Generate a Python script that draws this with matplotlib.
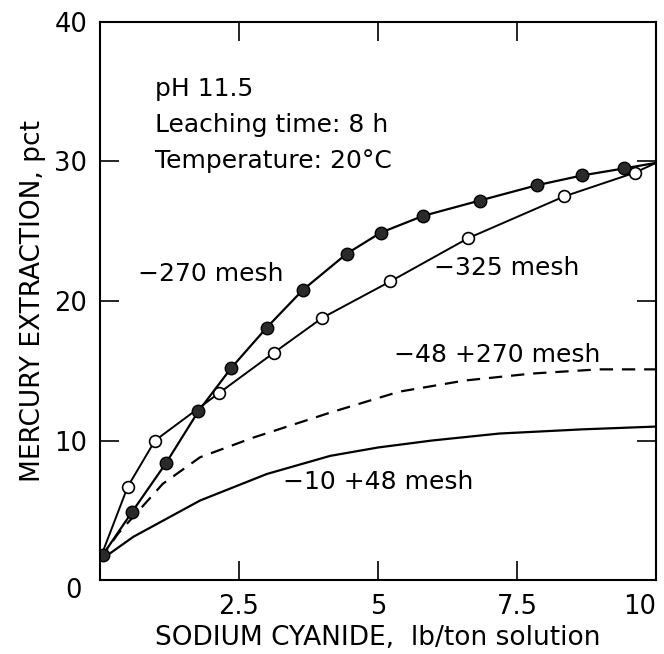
import matplotlib

matplotlib.use("Agg")
import matplotlib.pyplot as plt

# -270 mesh (filled circles)
x_270 = [0.05, 0.58, 1.19, 1.77, 2.36, 3.0, 3.65, 4.44, 5.05, 5.81, 6.83, 7.86, 8.67, 9.42]
y_270 = [1.8, 4.9, 8.4, 12.1, 15.2, 18.1, 20.8, 23.4, 24.9, 26.1, 27.2, 28.3, 29.0, 29.5]
x_270_end = [9.42, 10.0]
y_270_end = [29.5, 29.9]

# -325 mesh (open circles)
x_325 = [0.5, 0.99, 2.14, 3.13, 4.0, 5.22, 6.62, 8.35, 9.62]
y_325 = [6.7, 10.0, 13.4, 16.3, 18.8, 21.4, 24.5, 27.5, 29.2]
x_325_line = [0.0, 0.5, 0.99, 2.14, 3.13, 4.0, 5.22, 6.62, 8.35, 9.62, 10.0]
y_325_line = [1.5, 6.7, 10.0, 13.4, 16.3, 18.8, 21.4, 24.5, 27.5, 29.2, 29.9]

# -48 +270 mesh (dashed curve)
x_48_270 = [0.0, 0.32, 1.13, 1.8, 2.75, 4.14, 5.38, 6.56, 7.77, 8.97, 10.0]
y_48_270 = [1.5, 3.3, 6.9, 8.8, 10.2, 12.0, 13.5, 14.3, 14.8, 15.1, 15.1]

# -10 +48 mesh (solid curve)
x_10_48 = [0.0, 0.6, 1.8, 3.0, 4.14, 5.0, 5.97, 7.18, 8.67, 10.0]
y_10_48 = [1.4, 3.1, 5.7, 7.6, 8.9, 9.5, 10.0, 10.5, 10.8, 11.0]

xticks = [2.5, 5, 7.5, 10]
xtick_labels = ["2.5", "5", "7.5", "10"]
yticks = [10, 20, 30, 40]
ytick_labels = ["10", "20", "30", "40"]

plt.rcParams["font.family"] = ["DejaVu Sans"]

fig = plt.figure(figsize=(6.64, 6.54), dpi=100)
ax = fig.add_axes([0.1506, 0.1131, 0.8374, 0.8533])

ax.plot(x_10_48, y_10_48, color="black", lw=1.6)
ax.plot(x_48_270, y_48_270, color="black", lw=1.6, dashes=(6, 4))
ax.plot(x_325_line, y_325_line, color="black", lw=1.4)
ax.plot(x_325, y_325, "o", ms=8.5, mfc="white", mec="black", mew=1.2)
ax.plot(x_270 + x_270_end[1:], y_270 + y_270_end[1:], color="black", lw=1.6)
ax.plot(x_270, y_270, "o", ms=9, mfc="#2a2a2a", mec="black", mew=1.0)

ax.set_xlim(0, 10)
ax.set_ylim(0, 40)
ax.set_xticks(xticks, xtick_labels)
ax.set_yticks(yticks, ytick_labels)
ax.tick_params(direction="in", length=14, width=1.2, labelsize=18.5,
               top=True, right=True)
ax.tick_params(axis="x", pad=10)
ax.tick_params(axis="y", pad=9)
ax.get_xticklabels()[-1].set_ha("right")
for s in ax.spines.values():
    s.set_linewidth(1.5)
ax.text(-0.032, -0.02, "0", transform=ax.transAxes, fontsize=18.5,
        ha="right", va="center")

ax.set_xlabel("SODIUM CYANIDE,  lb/ton solution", fontsize=19, labelpad=4)
ax.set_ylabel("MERCURY EXTRACTION, pct", fontsize=19, labelpad=6)

ax.text(0.99, 35.2, "pH 11.5", fontsize=18, va="center")
ax.text(0.99, 32.6, "Leaching time: 8 h", fontsize=18, va="center")
ax.text(0.99, 30.0, "Temperature: 20\u00b0C", fontsize=18, va="center")

ax.text(0.68, 21.9, "\u2212270 mesh", fontsize=18, va="center")
ax.text(6.0, 22.4, "\u2212325 mesh", fontsize=18, va="center")
ax.text(5.29, 16.1, "\u221248 +270 mesh", fontsize=18, va="center")
ax.text(3.29, 7.0, "\u221210 +48 mesh", fontsize=18, va="center")

fig.savefig("out.png", dpi=100)
